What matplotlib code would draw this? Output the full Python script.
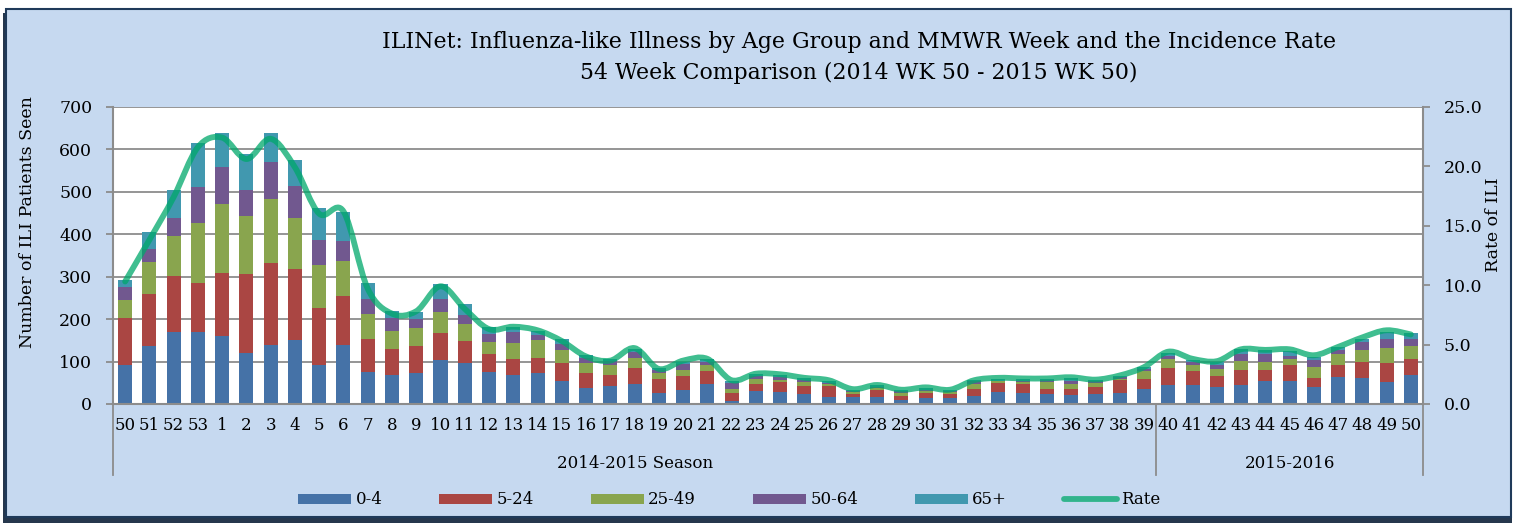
import matplotlib
matplotlib.use("Agg")
import matplotlib.pyplot as plt
from matplotlib.patches import Rectangle, PathPatch
from matplotlib.path import Path
from matplotlib.lines import Line2D
import numpy as np

plt.rcParams['font.family'] = ['DejaVu Serif']

# MMWR weeks, 2014 WK 50 - 2015 WK 50
weeks = ['50', '51', '52', '53'] + [str(w) for w in range(1, 51)]

age_0_4 = [93, 136, 169, 170, 161, 120, 139, 151, 91, 139, 75, 69, 73, 104, 97, 75, 69, 73,
           54, 38, 42, 47, 25, 33, 47, 6, 31, 28, 23, 17, 16, 17, 9, 14, 13, 20, 29, 25,
           23, 21, 23, 25, 35, 45, 44, 39, 45, 53, 54, 39, 63, 62, 52, 69]
age_5_24 = [109, 123, 133, 114, 147, 185, 193, 166, 135, 115, 78, 61, 63, 63, 52, 43, 37, 35,
            42, 34, 27, 37, 34, 32, 30, 19, 16, 23, 20, 26, 8, 17, 11, 11, 10, 15, 20, 21,
            13, 14, 16, 32, 23, 39, 33, 26, 35, 27, 37, 23, 30, 38, 45, 37]
age_25_49 = [42, 75, 93, 141, 162, 137, 150, 122, 101, 83, 59, 42, 44, 50, 40, 27, 37, 42,
             32, 24, 24, 25, 13, 15, 14, 11, 11, 6, 8, 4, 4, 4, 7, 6, 5, 11, 4, 5,
             15, 12, 11, 3, 19, 22, 14, 17, 22, 18, 15, 25, 24, 28, 36, 31]
age_50_64 = [31, 31, 44, 87, 87, 63, 87, 75, 58, 46, 36, 30, 20, 30, 20, 20, 26, 13,
             14, 12, 9, 14, 8, 14, 8, 13, 9, 7, 6, 3, 3, 3, 3, 3, 3, 7, 2, 4,
             6, 8, 4, 3, 6, 8, 7, 11, 16, 19, 7, 17, 11, 18, 20, 16]
age_65 = [18, 40, 64, 102, 80, 83, 68, 60, 76, 69, 36, 18, 17, 36, 26, 16, 12, 10,
          12, 8, 4, 7, 5, 6, 7, 5, 4, 5, 4, 4, 3, 3, 3, 3, 2, 4, 4, 4,
          3, 6, 3, 3, 5, 6, 6, 5, 12, 9, 11, 6, 6, 8, 16, 13]
rate = [10.3, 13.8, 17.4, 21.6, 22.4, 20.6, 22.3, 19.9, 16.0, 16.2, 9.7, 7.6, 7.8, 9.9, 8.0,
        6.3, 6.5, 6.2, 5.3, 4.0, 3.65, 4.7, 2.95, 3.65, 3.8, 2.0, 2.55, 2.5, 2.2, 2.0, 1.25,
        1.6, 1.2, 1.4, 1.2, 2.0, 2.2, 2.15, 2.15, 2.25, 2.05, 2.4, 3.1, 4.4, 3.8, 3.6, 4.6,
        4.55, 4.6, 4.1, 4.8, 5.6, 6.2, 5.85]

groups = ['0-4', '5-24', '25-49', '50-64', '65+']
series = [age_0_4, age_5_24, age_25_49, age_50_64, age_65]
colors = ['#4572A7', '#AA4643', '#89A54E', '#71588F', '#4198AF']
rate_color = '#00A86B'
seasons = ['2014-2015 Season', '2015-2016']
season_start = [0, 43]

W, H = 1517, 523
fig = plt.figure(figsize=(W / 100, H / 100), dpi=100)
fig.patch.set_facecolor('white')

# panel background with shadow
fig.patches.append(Rectangle((3 / W, 1 - 523 / H), 1509 / W, 510 / H, transform=fig.transFigure,
                             facecolor='#26374D', edgecolor='none', zorder=-2))
fig.patches.append(Rectangle((6 / W, 1 - 517 / H), 1505 / W, 508 / H, transform=fig.transFigure,
                             facecolor='#C6D9F0', edgecolor='#1F3A5A', lw=1.5, zorder=-1))

ax = fig.add_axes([113 / W, 1 - 404 / H, (1423 - 113) / W, (404 - 106.7) / H])
ax.set_facecolor('white')
x = np.arange(len(weeks))
bottom = np.zeros(len(weeks))
for name, vals, c in zip(groups, series, colors):
    ax.bar(x, vals, 0.58, bottom=bottom, color=c, label=name, zorder=2)
    bottom += np.array(vals)

ax.set_xlim(-0.5, len(weeks) - 0.5)
ax.set_ylim(0, 700)
ax.set_yticks(range(0, 701, 100))
ax.yaxis.grid(True, color='#8C8C8C', lw=1.3)
ax.set_axisbelow(True)
ax.tick_params(axis='y', labelsize=12.5, length=5, color='#8C8C8C', width=1.3, pad=10)
ax.set_xticks(x)
ax.set_xticklabels(weeks, fontsize=12)
ax.tick_params(axis='x', length=0, pad=9)
for s in ['left', 'bottom', 'right']:
    ax.spines[s].set_color('#8C8C8C')
    ax.spines[s].set_linewidth(1.5)
ax.spines['top'].set_visible(False)

# category group separators and season labels
tr = ax.get_xaxis_transform()
for xs in [-0.5, 42.5, len(weeks) - 0.5]:
    ax.plot([xs, xs], [0, -0.239], transform=tr, color='#8C8C8C', lw=1.3, clip_on=False)
ends = season_start[1:] + [len(weeks)]
for lab, s0, s1 in zip(seasons, season_start, ends):
    ax.text((s0 + s1 - 1) / 2, -0.2, lab, transform=tr, ha='center', va='center', fontsize=12)

# rate on secondary axis, smoothed like the original
ax2 = ax.twinx()
ax2.set_ylim(0, 25)
ax2.set_yticks(np.arange(0, 25.1, 5))
ax2.set_yticklabels([f'{v:.1f}' for v in np.arange(0, 25.1, 5)])
ax2.tick_params(axis='y', labelsize=12.5, length=5, color='#8C8C8C', width=1.3, pad=10)
for s in ax2.spines.values():
    s.set_visible(False)
pts = np.column_stack([x, rate])
ext = np.vstack([pts[0], pts, pts[-1]])
verts, codes = [pts[0]], [Path.MOVETO]
for i in range(len(pts) - 1):
    p0, p1, p2, p3 = ext[i], ext[i + 1], ext[i + 2], ext[i + 3]
    verts += [p1 + (p2 - p0) / 6, p2 - (p3 - p1) / 6, p2]
    codes += [Path.CURVE4] * 3
ax2.add_patch(PathPatch(Path(verts, codes), fill=False, edgecolor=rate_color, lw=4.2,
                        alpha=0.75, capstyle='round', joinstyle='round', zorder=3))

fig.text(28 / W, 1 - 222 / H, 'Number of ILI Patients Seen', rotation=90, ha='center',
         va='center', fontsize=12.5)
fig.text(1493 / W, 1 - 225 / H, 'Rate of ILI', rotation=90, ha='center', va='center',
         fontsize=12.5)
fig.text(859 / W, 1 - 42 / H, 'ILINet: Influenza-like Illness by Age Group and MMWR Week and the Incidence Rate',
         ha='center', va='center', fontsize=15.8)
fig.text(859 / W, 1 - 73 / H, '54 Week Comparison (2014 WK 50 - 2015 WK 50)',
         ha='center', va='center', fontsize=15.8)

handles, labels = ax.get_legend_handles_labels()
handles.append(Line2D([], [], color=rate_color, lw=4.2, alpha=0.75, solid_capstyle='round'))
labels.append('Rate')
fig.legend(handles, labels, loc='center left', bbox_to_anchor=(298 / W, 1 - 500 / H), ncol=6,
           frameon=False, fontsize=12, handlelength=3.2, handleheight=0.56, handletextpad=0.25,
           columnspacing=3.4, borderpad=0, borderaxespad=0)

fig.savefig('out.png', dpi=100)
